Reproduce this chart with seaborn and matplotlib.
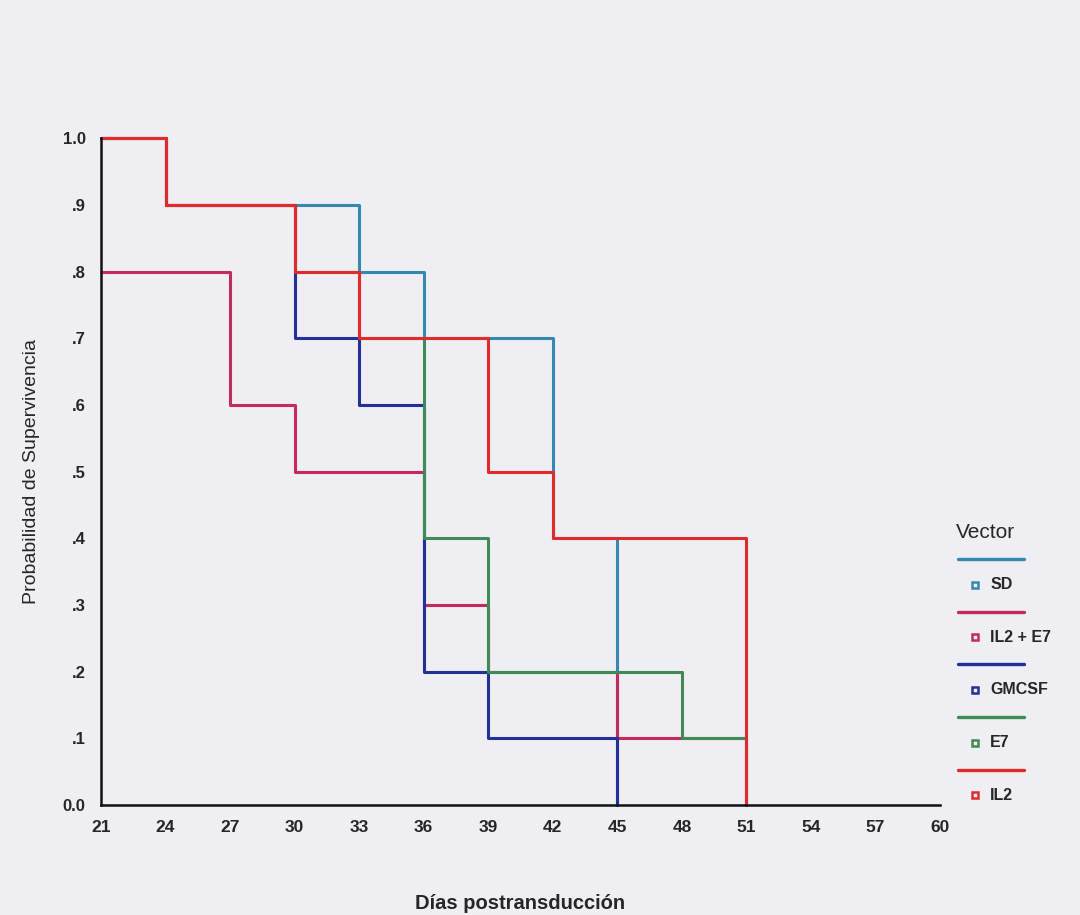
import numpy as np
import pandas as pd
import matplotlib
matplotlib.use("Agg")
import matplotlib.pyplot as plt
from matplotlib.lines import Line2D
import seaborn as sns

# ---- data ----
groups = ["SD", "IL2 + E7", "GMCSF", "E7", "IL2"]
times_sd = [21, 24, 33, 36, 42, 45]
surv_sd = [1.0, 0.9, 0.8, 0.7, 0.4, 0.0]
times_il2e7 = [21, 27, 30, 36, 39, 45, 51]
surv_il2e7 = [0.8, 0.6, 0.5, 0.3, 0.2, 0.1, 0.0]
times_gmcsf = [21, 24, 30, 33, 36, 39, 45]
surv_gmcsf = [1.0, 0.9, 0.7, 0.6, 0.2, 0.1, 0.0]
times_e7 = [21, 24, 30, 33, 36, 39, 48, 51]
surv_e7 = [1.0, 0.9, 0.8, 0.7, 0.4, 0.2, 0.1, 0.0]
times_il2 = [21, 24, 30, 33, 39, 42, 51]
surv_il2 = [1.0, 0.9, 0.8, 0.7, 0.5, 0.4, 0.0]
x_ticks = list(range(21, 61, 3))
y_ticks = [0.0, 0.1, 0.2, 0.3, 0.4, 0.5, 0.6, 0.7, 0.8, 0.9, 1.0]
y_ticklabels = ["0.0", ".1", ".2", ".3", ".4", ".5", ".6", ".7", ".8", ".9", "1.0"]

colors = {"SD": "#3589b0", "IL2 + E7": "#c42a5c", "GMCSF": "#22309a",
          "E7": "#3f8a55", "IL2": "#e02a2c"}

series = {"SD": (times_sd, surv_sd), "IL2 + E7": (times_il2e7, surv_il2e7),
          "GMCSF": (times_gmcsf, surv_gmcsf), "E7": (times_e7, surv_e7),
          "IL2": (times_il2, surv_il2)}

rows = []
for g in groups:
    t, s = series[g]
    for ti, si in zip(t, s):
        rows.append({"Vector": g, "dias": ti, "surv": si})
df = pd.DataFrame(rows)

sns.set_theme(style="white")
plt.rcParams['font.family'] = ['Liberation Sans', 'DejaVu Sans']

bg = "#eeeef3"
fig = plt.figure(figsize=(10.8, 9.15), dpi=100, facecolor=bg)
ax = fig.add_axes([0.0935, 0.120, 0.777, 0.729])
ax.set_facecolor(bg)

for g in groups:
    sub = df[df["Vector"] == g]
    sns.lineplot(data=sub, x="dias", y="surv", ax=ax, color=colors[g],
                 drawstyle="steps-post", sort=False, estimator=None,
                 linewidth=2.2, clip_on=False, legend=False)

ax.set_xlim(21, 60)
ax.set_ylim(0, 1.0)
ax.set_xticks(x_ticks)
ax.set_xticklabels([str(v) for v in x_ticks], fontsize=12.5, fontweight="bold")
ax.set_yticks(y_ticks)
ax.set_yticklabels(y_ticklabels, fontsize=12, fontweight="bold")
for sp in ["top", "right"]:
    ax.spines[sp].set_visible(False)
for sp in ["left", "bottom"]:
    ax.spines[sp].set_color("#111111")
    ax.spines[sp].set_linewidth(1.8)
ax.tick_params(axis="both", direction="out", length=4, width=2.5, color="#111111",
               pad=7)
ax.set_xlabel("Días postransducción", fontsize=14.5, fontweight="bold", labelpad=42)
ax.set_ylabel("Probabilidad de Supervivencia", fontsize=14, labelpad=16)

# legend (SPSS style: line, then marker + label)
fig.text(0.885, 0.418, "Vector", fontsize=15, ha="left", va="center")
y0 = 0.389
step = 0.0575
for i, g in enumerate(groups):
    yl = y0 - i * step
    fig.add_artist(Line2D([0.887, 0.948], [yl, yl], color=colors[g],
                          linewidth=2.4, transform=fig.transFigure))
    ym = yl - 0.028
    fig.add_artist(Line2D([0.903], [ym], marker="s", markersize=5,
                          markerfacecolor="none", markeredgecolor=colors[g],
                          markeredgewidth=1.8, linestyle="none",
                          transform=fig.transFigure))
    fig.text(0.917, ym, g, fontsize=11.5, fontweight="bold", ha="left", va="center")

fig.savefig("out.png", dpi=100, facecolor=bg)
